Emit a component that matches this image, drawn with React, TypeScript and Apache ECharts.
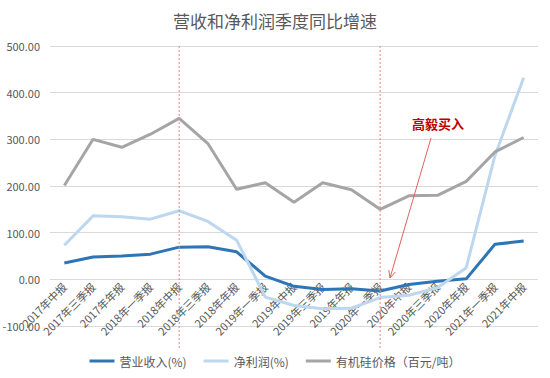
import React, { useEffect, useRef } from "react";
import * as echarts from "echarts";

const categories = [
  "2017年中报", "2017年三季报", "2017年年报", "2018年一季报", "2018年中报",
  "2018年三季报", "2018年年报", "2019年一季报", "2019年中报", "2019年三季报",
  "2019年年报", "2020年一季报", "2020年中报", "2020年三季报", "2020年年报",
  "2021年一季报", "2021年中报",
];
const revenue = [35, 48, 50, 54, 69, 70, 59, 7, -15, -22, -20, -25, -11, -4, 1, 75, 82];
const netProfit = [73, 136, 134, 129, 147, 124, 84, -38, -56, -63, -62, -39, -34, -18, 25, 265, 432];
const siliconPrice = [201, 300, 283, 311, 345, 291, 193, 207, 165, 207, 192, 150, 179, 180, 210, 273, 304];
const seriesNames = ["营业收入(%)", "净利润(%)", "有机硅价格（百元/吨）"];
const markedCategories = ["2018年中报", "2020年一季报"];
const annotationText = "高毅买入";
const yMin = -100;
const yMax = 500;

const FONT = "'Noto Sans CJK SC', 'Noto Sans', sans-serif";
const TXT = "#595959";
const GRID_TOP = 46;
const GRID_BOTTOM = 52;
const CHART_H = 378;

export default function App() {
  const ref = useRef<HTMLDivElement>(null);
  useEffect(() => {
    document.body.style.margin = "0";
    const chart = echarts.init(ref.current!, null, { renderer: "svg" });
    const gridH = CHART_H - GRID_TOP - GRID_BOTTOM;
    const zeroOffset = -(gridH * (0 - yMin)) / (yMax - yMin);
    chart.setOption({
      animation: false,
      textStyle: { fontFamily: FONT },
      title: {
        text: "营收和净利润季度同比增速",
        left: "center",
        top: 7,
        textStyle: { fontSize: 17, fontWeight: "normal", color: TXT, fontFamily: FONT },
      },
      grid: { left: 50, right: 12, top: GRID_TOP, bottom: GRID_BOTTOM, containLabel: false, outerBoundsMode: "none" },
      legend: {
        bottom: 6,
        left: "center",
        itemWidth: 25,
        itemHeight: 3,
        itemGap: 17,
        icon: "rect",
        textStyle: { fontSize: 12, color: TXT, fontFamily: FONT },
        data: seriesNames,
      },
      xAxis: {
        type: "category",
        data: categories,
        boundaryGap: true,
        offset: zeroOffset,
        axisLine: { show: false, onZero: false },
        axisTick: { show: false },
        axisLabel: { interval: 0, rotate: 45, fontSize: 11, color: TXT, margin: 5, fontFamily: FONT },
      },
      yAxis: {
        type: "value",
        min: yMin,
        max: yMax,
        interval: 100,
        axisLine: { show: false },
        axisTick: { show: false },
        axisLabel: { fontSize: 11, color: TXT, formatter: (v: number) => v.toFixed(2), margin: 10, fontFamily: FONT },
        splitLine: { lineStyle: { color: "#d9d9d9", width: 1 } },
      },
      series: [
        { name: seriesNames[0], type: "line", data: revenue, symbol: "none", lineStyle: { width: 3, color: "#2E75B6" }, itemStyle: { color: "#2E75B6" } },
        { name: seriesNames[1], type: "line", data: netProfit, symbol: "none", lineStyle: { width: 3, color: "#BDD7EE" }, itemStyle: { color: "#BDD7EE" } },
        { name: seriesNames[2], type: "line", data: siliconPrice, symbol: "none", lineStyle: { width: 3, color: "#A5A5A5" }, itemStyle: { color: "#A5A5A5" } },
      ],
    });

    const yTop = chart.convertToPixel({ yAxisIndex: 0 }, yMax) as number;
    const dashed = markedCategories.map((c) => {
      const x = chart.convertToPixel({ xAxisIndex: 0 }, c) as number;
      return {
        type: "line",
        shape: { x1: x, y1: yTop, x2: x, y2: 348 },
        style: { stroke: "#f08080", lineWidth: 1, lineDash: [2, 2] },
        z: 10,
      };
    });

    const sx = 431, sy = 138, ex = 390, ey = 278;
    const dx = sx - ex, dy = sy - ey;
    const len = Math.hypot(dx, dy);
    const ux = dx / len, uy = dy / len;
    const ang = (25 * Math.PI) / 180;
    const hl = 8;
    const a1 = [ex + hl * (ux * Math.cos(ang) - uy * Math.sin(ang)), ey + hl * (ux * Math.sin(ang) + uy * Math.cos(ang))];
    const a2 = [ex + hl * (ux * Math.cos(-ang) - uy * Math.sin(-ang)), ey + hl * (ux * Math.sin(-ang) + uy * Math.cos(-ang))];

    chart.setOption({
      graphic: [
        ...dashed,
        {
          type: "line",
          shape: { x1: sx, y1: sy, x2: ex, y2: ey },
          style: { stroke: "#e06060", lineWidth: 1 },
          z: 10,
        },
        {
          type: "polyline",
          shape: { points: [a1, [ex, ey], a2] },
          style: { stroke: "#e06060", lineWidth: 1, fill: null },
          z: 10,
        },
        {
          type: "text",
          x: 438,
          y: 123,
          style: {
            text: annotationText,
            fontSize: 13,
            fontWeight: "bold",
            fill: "#c00000",
            fontFamily: FONT,
            align: "center",
            verticalAlign: "middle",
          },
          z: 10,
        },
      ],
    });

    return () => chart.dispose();
  }, []);
  return <div ref={ref} style={{ width: 550, height: 378 }} />;
}
